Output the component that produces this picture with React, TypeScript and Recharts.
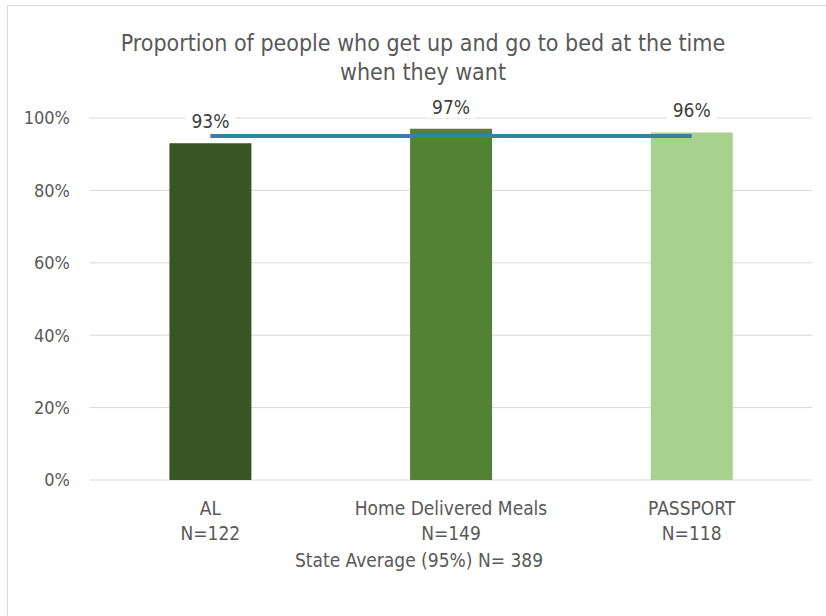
import React from 'react';
import { ComposedChart, Bar, Line, XAxis, YAxis, CartesianGrid, Cell, LabelList } from 'recharts';

// programme categories and their sample sizes
const programs = ['AL', 'Home Delivered Meals', 'PASSPORT'];
const sampleSizes = [122, 149, 118];
// share of people who get up and go to bed when they want (%)
const shares = [93, 97, 96];
// statewide average, drawn as a flat line across the programmes
const stateAverage = [95, 95, 95];
const barColors = ['#375623', '#548235', '#A9D18E'];
const yTicks = [0, 20, 40, 60, 80, 100];

const data = programs.map((name, i) => ({
    name,
    n: sampleSizes[i],
    share: shares[i],
    avg: stateAverage[i],
}));

const FONT = '"DejaVu Sans Condensed", "Liberation Sans", sans-serif';
const TEXT = '#595959';

// value label with a white backing so the gridline breaks behind it
function ValueLabel(props: any) {
    const { x, y, width, value } = props;
    const cx = Number(x) + Number(width) / 2;
    const cy = Number(y) - 22;
    return (
        <g>
            <rect x={cx - 25} y={cy - 11} width={50} height={22} fill="#fff" />
            <text x={cx} y={cy + 7} textAnchor="middle" fill="#404040" fontSize={19} fontFamily={FONT}>
                {`${value}%`}
            </text>
        </g>
    );
}

function CategoryTick(props: any) {
    const { x, y, payload } = props;
    const row = data[payload.index];
    return (
        <g transform={`translate(${x},${y})`}>
            <text textAnchor="middle" fill={TEXT} fontSize={19} fontFamily={FONT}>
                <tspan x={0} dy={27}>{row.name}</tspan>
                <tspan x={0} dy={25}>{`N=${row.n}`}</tspan>
            </text>
        </g>
    );
}

export default function App() {
    return (
        <div style={{ position: 'fixed', left: 0, top: 0, width: 826, height: 616, background: '#fff', overflow: 'hidden', fontFamily: FONT }}>
            <div style={{ position: 'absolute', left: 7, top: 5, width: 840, height: 640, border: '1px solid #D9D9D9' }} />

            {/* Title */}
            <div style={{ position: 'absolute', left: 0, width: 846, top: 29, textAlign: 'center', color: TEXT, fontSize: 23, lineHeight: '29px' }}>
                Proportion of people who get up and go to bed at the time
                <br />
                when they want
            </div>

            <div style={{ position: 'absolute', left: 0, top: 0 }}>
                <ComposedChart width={826} height={616} data={data} margin={{ top: 118, right: 14, bottom: 0, left: 0 }} barCategoryGap="33%">
                    <CartesianGrid vertical={false} stroke="#D9D9D9" />
                    <XAxis dataKey="name" height={136} axisLine={false} tickLine={false} tick={<CategoryTick />} interval={0} />
                    <YAxis
                        width={90}
                        domain={[0, 100]}
                        ticks={yTicks}
                        tickFormatter={(v: number) => `${v}%`}
                        axisLine={false}
                        tickLine={false}
                        tickMargin={14}
                        tick={{ fill: TEXT, fontSize: 18, fontFamily: FONT }}
                    />
                    <Bar dataKey="share" isAnimationActive={false}>
                        {data.map((d, i) => (
                            <Cell key={d.name} fill={barColors[i]} />
                        ))}
                        <LabelList dataKey="share" content={<ValueLabel />} />
                    </Bar>
                    <Line dataKey="avg" stroke="#31859C" strokeWidth={4} dot={false} isAnimationActive={false} />
                </ComposedChart>
            </div>

            <div style={{ position: 'absolute', left: 219, width: 400, top: 549, textAlign: 'center', color: TEXT, fontSize: 19, lineHeight: '22px', whiteSpace: 'nowrap' }}>
                State Average (95%) N= 389
            </div>
        </div>
    );
}
